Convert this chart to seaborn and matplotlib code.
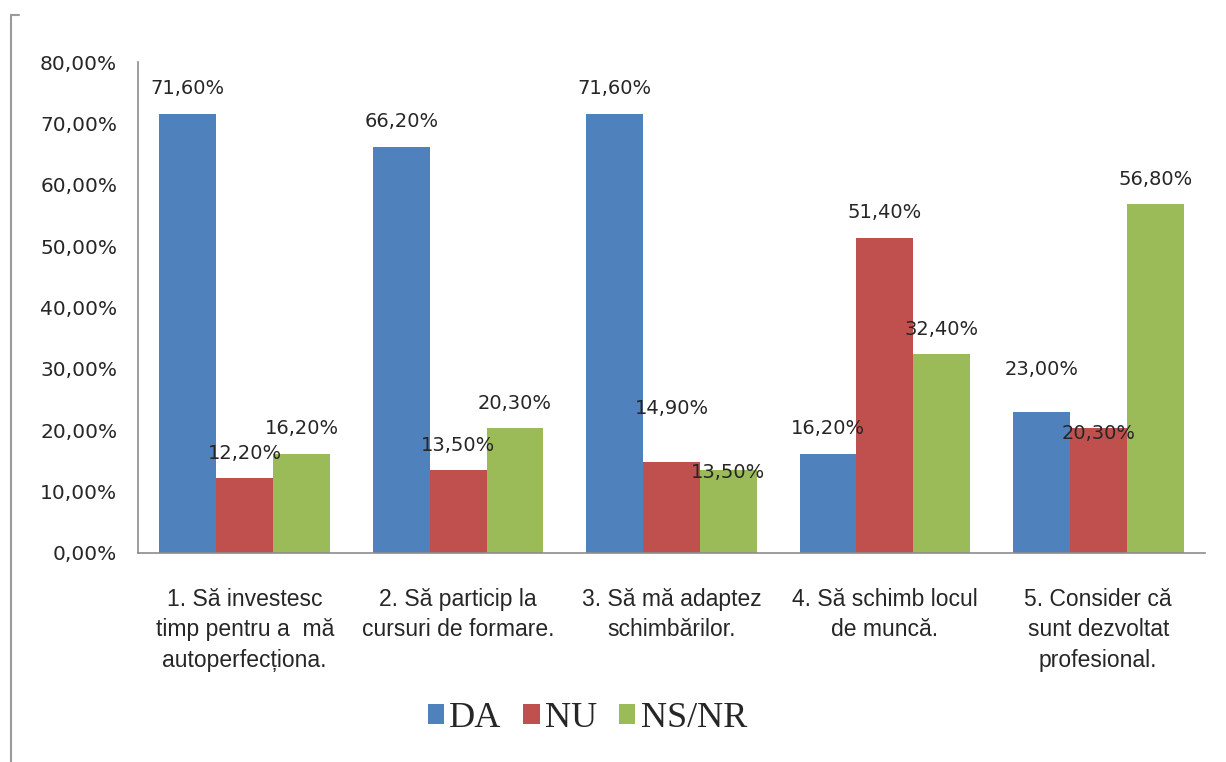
import matplotlib
matplotlib.use('Agg')
import matplotlib.pyplot as plt
import seaborn as sns
import numpy as np
import pandas as pd
from matplotlib.patches import Patch
from matplotlib.lines import Line2D

# Chart data
categories = [
    "1. Să investesc\ntimp pentru a  mă\nautoperfecționa.",
    "2. Să particip la\ncursuri de formare.",
    "3. Să mă adaptez\nschimbărilor.",
    "4. Să schimb locul\nde muncă.",
    "5. Consider că\nsunt dezvoltat\nprofesional.",
]
series = ["DA", "NU", "NS/NR"]
da_values = [71.6, 66.2, 71.6, 16.2, 23.0]
nu_values = [12.2, 13.5, 14.9, 51.4, 20.3]
nsnr_values = [16.2, 20.3, 13.5, 32.4, 56.8]
y_ticks = [0, 10, 20, 30, 40, 50, 60, 70, 80]

colors = ["#4F81BD", "#C0504D", "#9BBB59"]

# label placement tweaks (pixels above bar top), like the original Excel chart
label_offset_default = 25
label_offset = {(2, 1): 53, (2, 2): -2, (4, 0): 42, (4, 1): -5}

df = pd.DataFrame({
    "cat": categories * 3,
    "serie": [s for s in series for _ in categories],
    "val": da_values + nu_values + nsnr_values,
})

sns.set_style("white")
plt.rcParams['font.family'] = ['DejaVu Sans']

fig = plt.figure(figsize=(12.26, 7.62), dpi=100)
ax = fig.add_axes([138 / 1226, 1 - 553 / 762, 1067 / 1226, (553 - 62) / 762])

sns.barplot(data=df, x="cat", y="val", hue="serie", palette=colors,
            width=0.8, saturation=1, linewidth=0, ax=ax, legend=False)

ax.set_ylim(0, 80)
ax.set_xlim(-0.5, 4.5)
ax.set_yticks(y_ticks)
ax.set_yticklabels([f"{v:.2f}%".replace('.', ',') for v in y_ticks],
                   fontsize=14.5, color="#262626")
ax.set_xticks(range(len(categories)))
ax.set_xticklabels(categories, fontsize=16.5, family='Liberation Sans',
                   color="#262626", linespacing=1.42)
ax.tick_params(axis='both', length=0)
ax.tick_params(axis='y', pad=15)
ax.tick_params(axis='x', pad=25)
ax.set_xlabel("")
ax.set_ylabel("")

for side in ['top', 'right']:
    ax.spines[side].set_visible(False)
for side in ['left', 'bottom']:
    ax.spines[side].set_color("#8c8c8c")
    ax.spines[side].set_linewidth(1.2)

# data labels
for s_idx, container in enumerate(ax.containers):
    for c_idx, bar in enumerate(container):
        h = bar.get_height()
        dy = label_offset.get((c_idx, s_idx), label_offset_default)
        ax.annotate(f"{h:.2f}%".replace('.', ','),
                    (bar.get_x() + bar.get_width() / 2, h),
                    xytext=(0, dy), textcoords='offset pixels',
                    ha='center', va='center', fontsize=14, color="#262626",
                    annotation_clip=False)

# legend
handles = [Patch(facecolor=c, edgecolor='none') for c in colors]
fig.legend(handles, series, loc='center', bbox_to_anchor=(0.479, 0.057),
           ncol=3, frameon=False, prop={'family': 'Liberation Serif', 'size': 26},
           handlelength=0.45, handleheight=0.45, handletextpad=0.15,
           columnspacing=0.6)

# chart area border (left edge)
fig.add_artist(Line2D([11 / 1226, 11 / 1226], [0, 1 - 15 / 762],
                      transform=fig.transFigure, color="#9a9a9a", lw=1.5))
fig.add_artist(Line2D([11 / 1226, 19 / 1226], [1 - 15 / 762, 1 - 15 / 762],
                      transform=fig.transFigure, color="#9a9a9a", lw=1.5))

fig.savefig("out.png", dpi=100)
